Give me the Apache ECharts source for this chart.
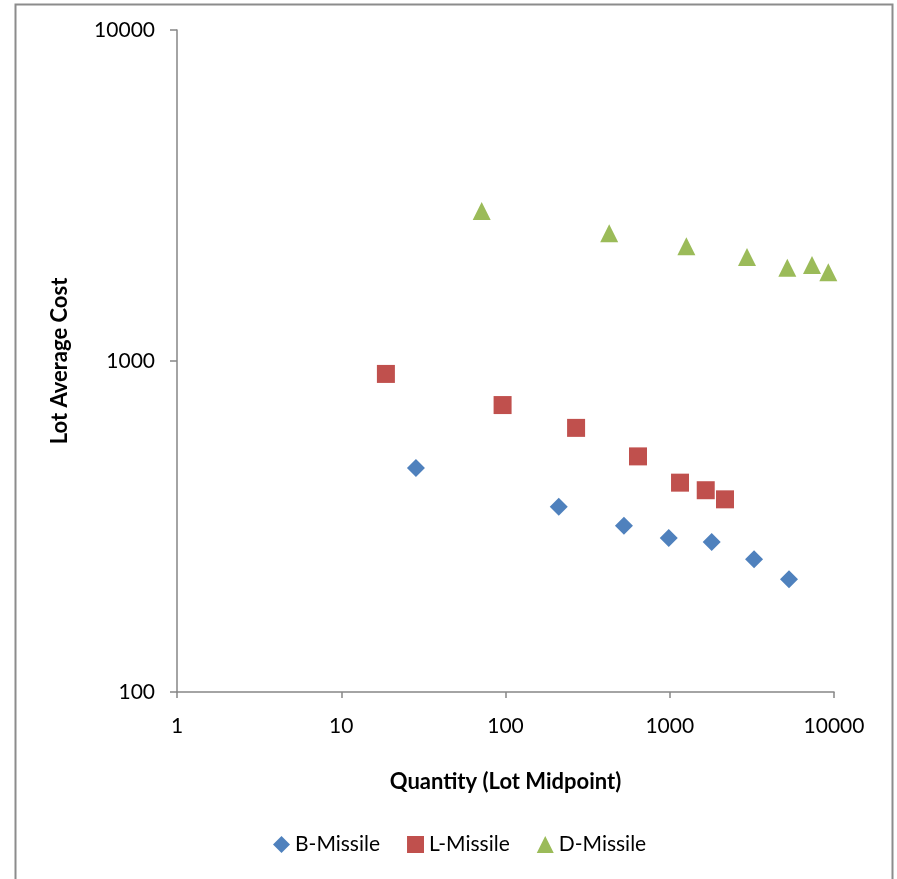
<!DOCTYPE html>
<html>
<head>
<meta charset="utf-8">
<script src="https://cdn.jsdelivr.net/npm/echarts@6/dist/echarts.min.js"></script>
<style>
html,body{margin:0;padding:0;background:#fff;}
#chart{width:897px;height:879px;}
</style>
</head>
<body>
<div id="chart"></div>
<script>
const seriesNames = ['B-Missile', 'L-Missile', 'D-Missile'];
const bQty = [28.5, 211, 526, 986, 1800, 3260, 5320];
const bCost = [475, 363, 318, 292, 284, 252, 219];
const lQty = [18.7, 96, 269, 641, 1155, 1656, 2170];
const lCost = [914, 736, 628, 515, 429, 407, 382];
const dQty = [71.6, 428, 1262, 2953, 5196, 7344, 9230];
const dCost = [2839, 2431, 2222, 2061, 1914, 1950, 1854];
const xTicks = [1, 10, 100, 1000, 10000];
const yTicks = [100, 1000, 10000];

function pairs(xs, ys) { return xs.map((x, i) => [x, ys[i]]); }

const font = 'Lato, "Open Sans", sans-serif';
const axisColor = '#868686';

const chart = echarts.init(document.getElementById('chart'), null, {renderer: 'canvas'});
chart.setOption({
  animation: false,
  backgroundColor: '#fff',
  graphic: [{
    type: 'rect',
    shape: {x: 15.5, y: 4.5, width: 877, height: 900},
    style: {fill: 'none', stroke: '#8c8c8c', lineWidth: 2},
    silent: true
  }],
  grid: {left: 177, top: 30, right: 63, bottom: 187, containLabel: false},
  legend: {
    bottom: 19,
    left: 268,
    itemGap: 27,
    itemWidth: 17,
    itemHeight: 17,
    textStyle: {fontFamily: font, fontSize: 21, color: '#000'},
    data: [
      {name: seriesNames[0], icon: 'diamond'},
      {name: seriesNames[1], icon: 'rect'},
      {name: seriesNames[2], icon: 'triangle'}
    ]
  },
  xAxis: {
    type: 'log',
    logBase: 10,
    min: xTicks[0],
    max: xTicks[xTicks.length - 1],
    name: 'Quantity (Lot Midpoint)',
    nameLocation: 'middle',
    nameGap: 79,
    nameTextStyle: {fontFamily: font, fontSize: 22, fontWeight: 'bold', color: '#000'},
    axisLine: {show: true, lineStyle: {color: axisColor, width: 1.5}},
    axisTick: {show: true, length: 6, inside: false, lineStyle: {color: axisColor, width: 1.5}},
    splitLine: {show: false},
    minorTick: {show: false},
    axisLabel: {fontFamily: font, fontSize: 21, color: '#000', margin: 24,
      formatter: v => String(Math.round(v))}
  },
  yAxis: {
    type: 'log',
    logBase: 10,
    min: yTicks[0],
    max: yTicks[yTicks.length - 1],
    name: 'Lot Average Cost',
    nameLocation: 'middle',
    nameGap: 106,
    nameRotate: 90,
    nameTextStyle: {fontFamily: font, fontSize: 22, fontWeight: 'bold', color: '#000'},
    axisLine: {show: true, lineStyle: {color: axisColor, width: 1.5}},
    axisTick: {show: true, length: 7, inside: false, lineStyle: {color: axisColor, width: 1.5}},
    splitLine: {show: false},
    axisLabel: {fontFamily: font, fontSize: 21, color: '#000', margin: 22,
      formatter: v => String(Math.round(v))}
  },
  series: [
    {name: seriesNames[0], type: 'scatter', symbol: 'diamond', symbolSize: 18,
      itemStyle: {color: '#4F81BD', opacity: 1}, data: pairs(bQty, bCost)},
    {name: seriesNames[1], type: 'scatter', symbol: 'rect', symbolSize: 18,
      itemStyle: {color: '#C0504D', opacity: 1}, data: pairs(lQty, lCost)},
    {name: seriesNames[2], type: 'scatter', symbol: 'triangle', symbolSize: 18,
      itemStyle: {color: '#9BBB59', opacity: 1}, data: pairs(dQty, dCost)}
  ]
});
</script>
</body>
</html>
